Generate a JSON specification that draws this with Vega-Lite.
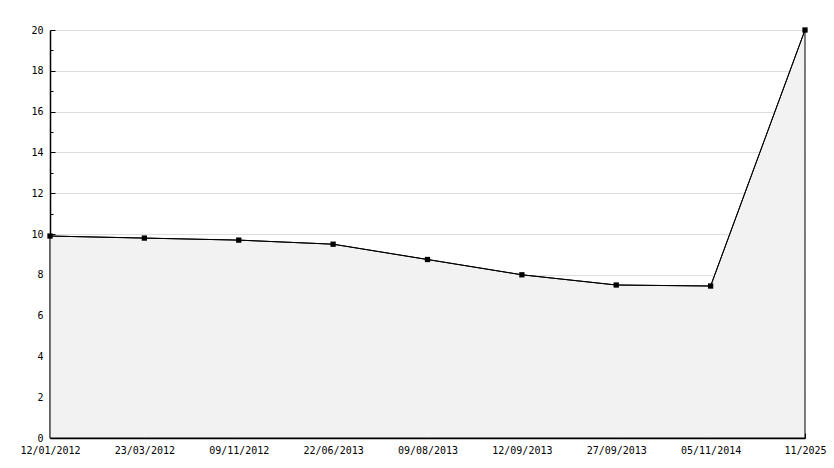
{
  "$schema": "https://vega.github.io/schema/vega-lite/v6.json",
  "width": 755,
  "height": 408,
  "autosize": "none",
  "padding": {"left": 50, "top": 30, "right": 29, "bottom": 30},
  "background": "white",
  "config": {
    "view": {"stroke": null},
    "font": "DejaVu Sans Mono",
    "axis": {"labelFont": "DejaVu Sans Mono", "labelFontSize": 10, "labelColor": "#000", "domainColor": "#000", "tickColor": "#000", "title": null}
  },
  "data": {"values": [
    {"date": "12/01/2012", "value": 9.9},
    {"date": "23/03/2012", "value": 9.8},
    {"date": "09/11/2012", "value": 9.7},
    {"date": "22/06/2013", "value": 9.5},
    {"date": "09/08/2013", "value": 8.75},
    {"date": "12/09/2013", "value": 8.0},
    {"date": "27/09/2013", "value": 7.5},
    {"date": "05/11/2014", "value": 7.45},
    {"date": "11/2025", "value": 20}
  ]},
  "encoding": {
    "x": {"field": "date", "type": "ordinal", "sort": null,
      "scale": {"type": "point", "padding": 0},
      "axis": {"labelAngle": 0, "tickSize": -5, "labelPadding": 12, "grid": false, "domainWidth": 1.5}}
  },
  "layer": [
    {
      "encoding": {
        "y": {"field": "value", "type": "quantitative",
          "scale": {"domain": [0, 20], "nice": false, "zero": true},
          "axis": {"orient": "left", "values": [0,2,4,6,8,10,12,14,16,18,20], "tickSize": -5, "labelPadding": 12, "grid": true, "gridColor": "#dddddd", "domainWidth": 1.5}}
      },
      "layer": [
        {"mark": {"type": "area", "color": "#f2f2f2", "stroke": "#000", "strokeWidth": 1}},
        {"mark": {"type": "line", "color": "#000", "strokeWidth": 1}},
        {"mark": {"type": "point", "shape": "square", "filled": true, "color": "#000", "size": 28, "opacity": 1}}
      ]
    },
    {"mark": {"type": "point", "opacity": 0},
      "encoding": {"y": {"field": "value", "type": "quantitative",
        "axis": {"orient": "left", "values": [1,3,5,7,9,11,13,15,17,19], "tickSize": -3, "labels": false, "grid": false, "domain": false}}}}
  ],
  "resolve": {"axis": {"y": "independent"}}
}
